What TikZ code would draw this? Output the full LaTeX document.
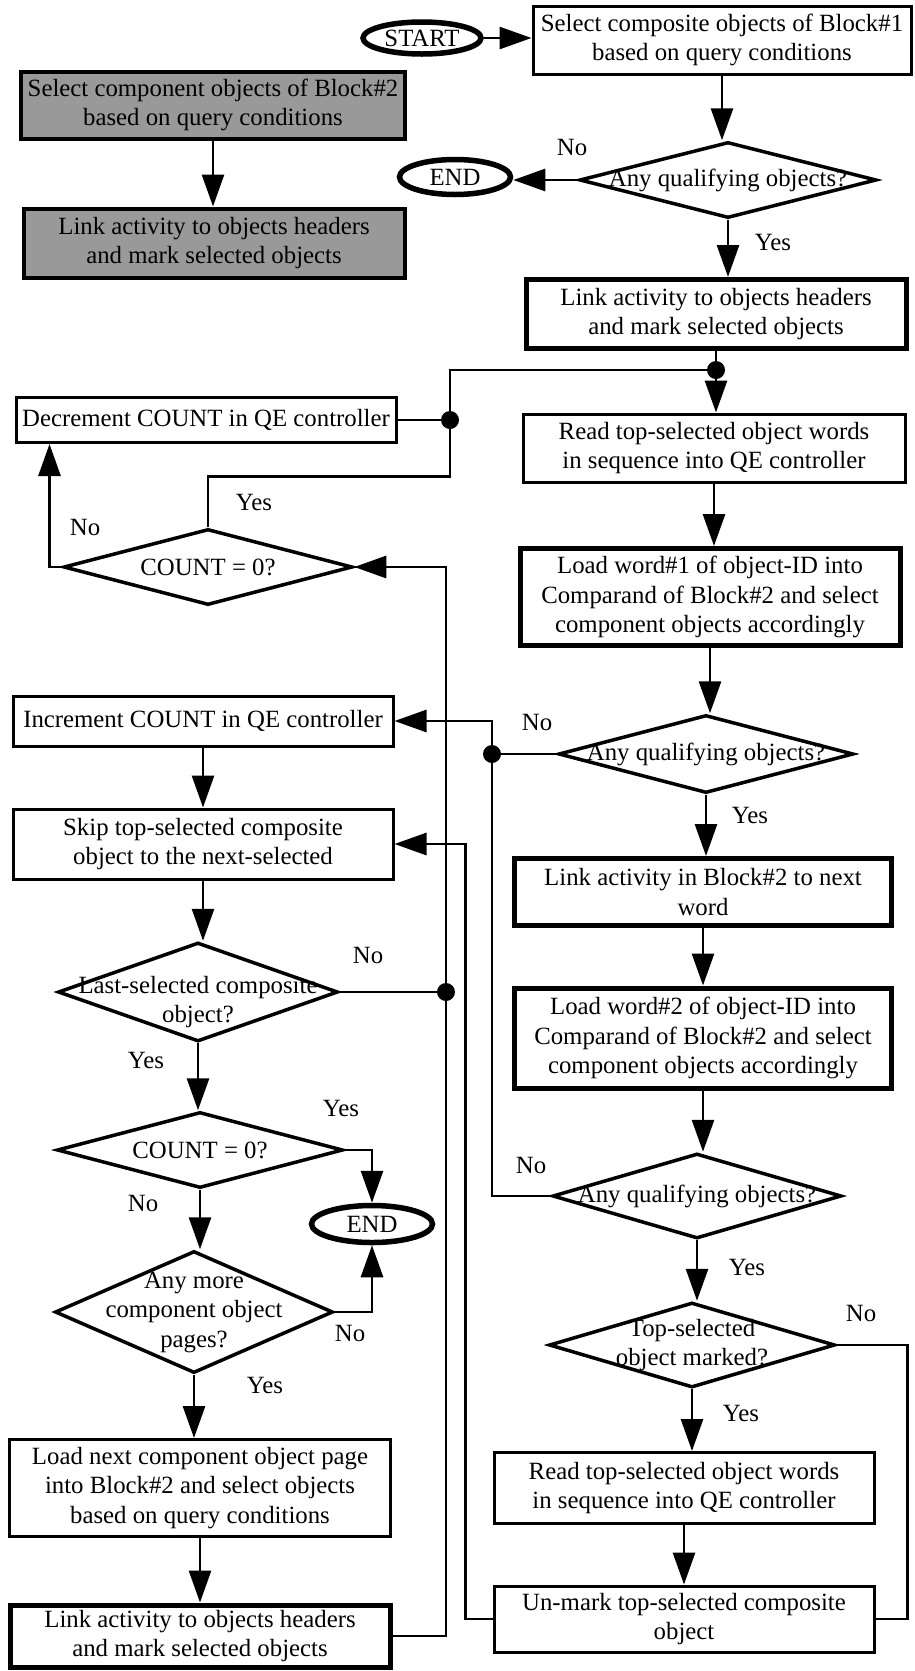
\documentclass[tikz,border=0pt]{standalone}
\usepackage{fontspec}
\setmainfont{Liberation Serif}
\usetikzlibrary{shapes.geometric,arrows.meta}

\tikzset{
  sz/.style 2 args={minimum width=#1pt, minimum height=#2pt},
  block/.style={draw, line width=3pt, align=center, inner sep=0pt},
  heavy/.style={block, line width=5pt},
  shaded/.style={block, line width=4pt, fill=black!40},
  decision/.style={diamond, draw, line width=3.5pt, inner sep=0pt},
  terminal/.style={ellipse, draw, line width=5.5pt, inner sep=0pt},
  joint/.style={circle, fill, inner sep=0pt, minimum size=18pt},
  flow/.style={line width=2.8pt},
  arr/.style={flow, -{Triangle[length=32pt,width=22pt]}}
}

\begin{document}
\begin{tikzpicture}[x=1pt, y=-1pt, font={\fontsize{24.8pt}{29.5pt}\selectfont}]
\useasboundingbox (0,0) rectangle (915,1671);

\node[terminal, sz={118}{32}] (start) at (422,38) {START};
\node[block, sz={378}{68}] (sel1) at (722,40) {Select composite objects of Block\#1\\based on query conditions};
\node[decision, sz={297}{76}, label={center:Any qualifying objects?}] (any1) at (728,180) {};
\node[terminal, sz={111}{35}] (end1) at (455,177) {END};
\node[heavy, sz={380}{69}] (link1) at (716,314) {Link activity to objects headers\\and mark selected objects};

\node[shaded, sz={384}{67}] (gsel) at (213,105) {Select component objects of Block\#2\\based on query conditions};
\node[shaded, sz={381}{69}] (glink) at (214,243) {Link activity to objects headers\\and mark selected objects};

\node[block, sz={380}{45}] (dec) at (206,420) {Decrement COUNT in QE controller};
\node[block, sz={382}{68}] (read1) at (714,448) {Read top-selected object words\\in sequence into QE controller};
\node[decision, sz={289}{76}, label={center:{COUNT = 0?}}] (cnt1) at (208,567) {};
\node[heavy, sz={380}{97}] (load1) at (710,597) {Load word\#1 of object-ID into\\Comparand of Block\#2 and select\\component objects accordingly};
\node[block, sz={380}{50}] (inc) at (203,721) {Increment COUNT in QE controller};
\node[decision, sz={295}{78}, label={center:Any qualifying objects?}] (any2) at (706,754) {};
\node[block, sz={380}{70}] (skip) at (203,844) {Skip top-selected composite\\object to the next-selected};
\node[heavy, sz={377}{67}] (link2) at (703,892) {Link activity in Block\#2 to next\\word};
\node[decision, sz={280}{99}, label={[align=center,yshift=-10pt]center:Last-selected composite\\object?}] (last) at (198,992) {};
\node[heavy, sz={377}{100}] (load2) at (703,1038) {Load word\#2 of object-ID into\\Comparand of Block\#2 and select\\component objects accordingly};
\node[decision, sz={286}{76}, label={center:{COUNT = 0?}}] (cnt2) at (200,1150) {};
\node[decision, sz={289}{85}, label={center:Any qualifying objects?}] (any3) at (697,1196) {};
\node[terminal, sz={121}{37}] (end2) at (372,1224) {END};
\node[decision, sz={278}{122}, label={[align=center]center:Any more\\component object\\pages?}] (more) at (194,1312) {};
\node[decision, sz={286}{85}, label={[align=center]center:Top-selected\\object marked?}] (mark) at (692,1345) {};
\node[block, sz={381}{97}] (next) at (200,1488) {Load next component object page\\into Block\#2 and select objects\\based on query conditions};
\node[block, sz={380}{71}] (read2) at (684,1488) {Read top-selected object words\\in sequence into QE controller};
\node[heavy, sz={380}{62}] (link3) at (200,1636) {Link activity to objects headers\\and mark selected objects};
\node[block, sz={380}{66}] (unmark) at (684,1619) {Un-mark top-selected composite\\object};

\node[joint] (j1) at (716,370) {};
\node[joint] (j2) at (450,420) {};
\node[joint] (j3) at (492,754) {};
\node[joint] (j4) at (446,992) {};

\foreach \a/\b in {sel1/any1, any1/link1, link1/read1, read1/load1, load1/any2, any2/link2,
    link2/load2, load2/any3, any3/mark, mark/read2, read2/unmark, gsel/glink,
    inc/skip, skip/last, last/cnt2, cnt2/more, more/next, next/link3}
  \draw[arr] (\a.south) -- (\a.south |- \b.north);

\draw[arr] (start.east) -- (start.east -| sel1.west);
\draw[arr] (any1.west) -- (any1.west -| end1.east);
\draw[flow] (cnt1.north) -- ++(0,-51) -| (j2) |- (j1);
\draw[flow] (dec.east) -- (j2);
\draw[arr] (cnt1.west) -| ([xshift=35pt]dec.south west);
\draw[flow] (any2.west) -- (j3);
\draw[arr] (j3) |- (inc.east);
\draw[flow] (any3.west) -| (j3);
\draw[flow] (last.east) -- (j4);
\draw[arr] (link3.east) -| (j4) |- (cnt1.east);
\draw[arr] (cnt2.east) -| (end2.north);
\draw[arr] (more.east) -| (end2.south);
\draw[flow] (mark.east) -- ++(71,0) |- (unmark.east);
\draw[arr] (unmark.west) -- ++(-27,0) |- (skip.east);

\foreach \x/\y/\t [count=\i] in {572/147/No, 773/242/Yes, 254/502/Yes, 85/527/No,
    537/722/No, 750/815/Yes, 368/955/No, 146/1060/Yes, 341/1108/Yes, 143/1203/No,
    350/1333/No, 265/1385/Yes, 531/1165/No, 747/1267/Yes, 861/1313/No, 741/1413/Yes}
  \node (ans\i) at (\x,\y) {\t};
\end{tikzpicture}
\end{document}
